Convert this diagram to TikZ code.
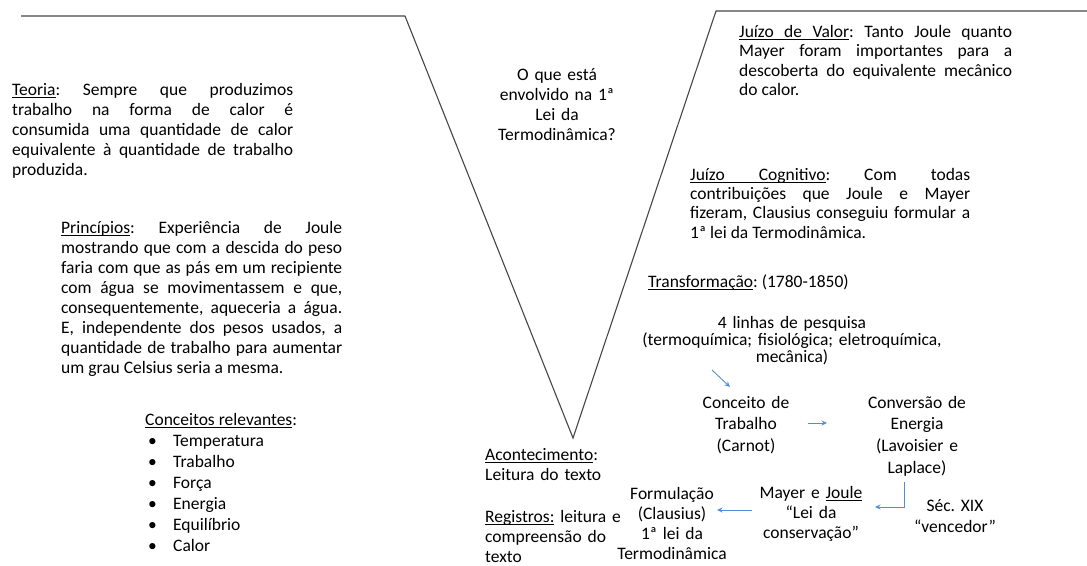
\documentclass[tikz,border=0pt]{standalone}
\usepackage{fontspec}
\setmainfont{Carlito}
\usetikzlibrary{arrows.meta}

\definecolor{vline}{RGB}{70,70,70}
\definecolor{flow}{RGB}{84,141,212}

\hyphenpenalty=10000
\exhyphenpenalty=10000
\frenchspacing

% underlined word, and an underlined stretchable interword space
\newcommand\ulw[1]{\leavevmode\setbox0\hbox{#1}\rlap{\vrule height -1.6pt depth 2.6pt width \wd0}\box0\relax}
\newcommand\ulsp{\leaders\hrule height -1.6pt depth 2.6pt\hskip\fontdimen2\font plus\fontdimen3\font minus\fontdimen4\font\relax}

\tikzset{
  para/.style={inner sep=0pt, anchor=base west, text width=#1, align=justify},
  leftblock/.style={inner sep=0pt, anchor=base west, text width=220pt, align=left},
  ctr/.style={inner sep=0pt, anchor=base, text width=340pt, align=center},
  fs/.style={font=\fontsize{17.5}{#1}\selectfont},
  vee/.style={draw=vline, line width=1.1pt, line join=miter},
  flowarrow/.style={draw=flow, line width=0.9pt, -{Stealth[length=5.5pt,width=5pt]}},
}

\begin{document}
\begin{tikzpicture}[x=1pt, y=-1pt]
\useasboundingbox (0,0) rectangle (1087,565);

% the V outline
\coordinate (vl0) at (21,16);
\coordinate (vl1) at (405,16);
\coordinate (vtip) at (573,438);
\coordinate (vr1) at (716,11);
\coordinate (vr0) at (1087,11);
\draw[vee] (vl0) -- (vl1) -- (vtip) -- (vr1) -- (vr0);

% left side: theory, principles, concepts
\node[para=281pt, fs=20] (teoria) at (12,95)
  {\ulw{Teoria}: Sempre que produzimos\linebreak
   trabalho na forma de calor é\linebreak
   consumida uma quantidade de calor\linebreak
   equivalente à quantidade de trabalho\linebreak
   produzida.};

\node[para=281pt, fs=20] (principios) at (61,233)
  {\ulw{Princípios}: Experiência de Joule\linebreak
   mostrando que com a descida do peso\linebreak
   faria com que as pás em um recipiente\linebreak
   com água se movimentassem e que,\linebreak
   consequentemente, aqueceria a água.\linebreak
   E, independente dos pesos usados, a\linebreak
   quantidade de trabalho para aumentar\linebreak
   um grau Celsius seria a mesma.};

\node[leftblock, fs=21] (conceitos) at (145,425)
  {\ulw{Conceitos}\ulsp\ulw{relevantes}:\\
   \hspace*{3pt}\makebox[25pt][l]{•}Temperatura\\
   \hspace*{3pt}\makebox[25pt][l]{•}Trabalho\\
   \hspace*{3pt}\makebox[25pt][l]{•}Força\\
   \hspace*{3pt}\makebox[25pt][l]{•}Energia\\
   \hspace*{3pt}\makebox[25pt][l]{•}Equilíbrio\\
   \hspace*{3pt}\makebox[25pt][l]{•}Calor};

% focus question
\node[ctr, fs=20] (questao) at (557,80)
  {O que está\\ envolvido na 1ª\\ Lei da\\ Termodinâmica?};

% event and records
\node[leftblock, fs=20] (acontecimento) at (485,460)
  {\ulw{Acontecimento}:\\ Leitura do texto};
\node[leftblock, fs=20] (registros) at (485,522)
  {\ulw{Registros:} leitura e\\ compreensão do\\ texto};

% right side: value and knowledge claims
\node[para=273pt, fs=19.5] (valor) at (739,37)
  {\ulw{Juízo}\ulsp\ulw{de}\ulsp\ulw{Valor}: Tanto Joule quanto\linebreak
   Mayer foram importantes para a\linebreak
   descoberta do equivalente mecânico\linebreak
   do calor.};

\node[para=280pt, fs=19.4] (cognitivo) at (690,180)
  {\ulw{Juízo}\ulsp\ulw{Cognitivo}: Com todas\linebreak
   contribuições que Joule e Mayer\linebreak
   fizeram, Clausius conseguiu formular a\linebreak
   1ª lei da Termodinâmica.};

\node[inner sep=0pt, anchor=base west, fs=20] (transf) at (648,287)
  {\ulw{Transformação}: (1780-1850)};

% historical sequence
\node[ctr, fs=17.4] (linhas) at (792,328)
  {4 linhas de pesquisa\\ (termoquímica; fisiológica; eletroquímica,\\ mecânica)};
\node[ctr, fs=21.5] (trabalho) at (746,408)
  {Conceito de\\ Trabalho\\ (Carnot)};
\node[ctr, fs=21.7] (conversao) at (917,408)
  {Conversão de\\ Energia\\ (Lavoisier e\\ Laplace)};
\node[ctr, fs=21] (seculo) at (955,511)
  {Séc. XIX\\ “vencedor”};
\node[ctr, fs=20] (mayer) at (811,498)
  {Mayer e \ulw{Joule}\\ “Lei da\\ conservação”};
\node[ctr, fs=20.3] (formulacao) at (672,499)
  {Formulação\\ (Clausius)\\ 1ª lei da\\ Termodinâmica};

% arrow end points
\coordinate (a1s) at (712,370);
\coordinate (a1e) at (730,387);
\coordinate (a2s) at (808,423);
\coordinate (a2e) at (827,423);
\coordinate (a3s) at (904,482);
\coordinate (a3m) at (904,507);
\coordinate (a3e) at (875,507);
\coordinate (a4s) at (752,510);
\coordinate (a4e) at (717,510);

\draw[flowarrow] (a1s) -- (a1e);
\draw[flowarrow] (a2s) -- (a2e);
\draw[flowarrow] (a3s) -- (a3m) -- (a3e);
\draw[flowarrow] (a4s) -- (a4e);
\end{tikzpicture}
\end{document}
